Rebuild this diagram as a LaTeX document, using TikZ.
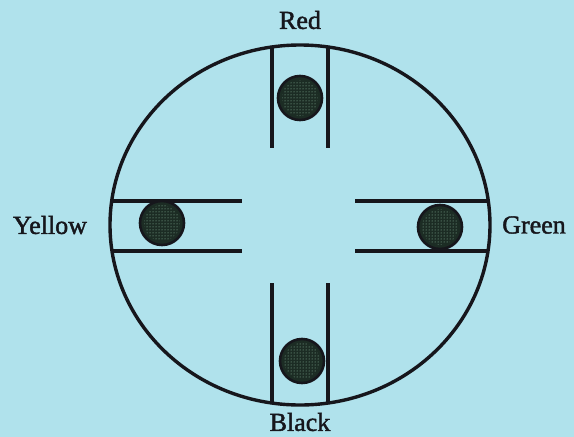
\documentclass[tikz,border=0pt]{standalone}
\usepackage{fontspec}
\setmainfont{Liberation Serif}[FakeBold=1.6]
\usetikzlibrary{patterns}
\definecolor{bg}{RGB}{176,226,236}
\definecolor{ink}{RGB}{22,22,28}
\definecolor{bead}{RGB}{28,44,36}
\definecolor{dotc}{RGB}{150,200,170}
\begin{document}
\begin{tikzpicture}[x=1pt,y=-1pt,
  wall/.style={draw=ink,line width=3.4pt},
  beadstyle/.style={circle,minimum size=44pt,inner sep=0pt,draw=ink,line width=2.6pt,fill=bead},
  lab/.style={font=\fontsize{26}{26}\selectfont,text=ink}]
\fill[bg] (0,0) rectangle (574,437);
\useasboundingbox (0,0) rectangle (574,437);
\begin{scope}
\clip (300,225) ellipse [x radius=190, y radius=180];
\draw[wall] (272,30) -- (272,148) (328,30) -- (328,148);
\draw[wall] (272,283) -- (272,420) (328,283) -- (328,420);
\draw[wall] (100,201) -- (242,201) (100,251) -- (242,251);
\draw[wall] (355,201) -- (500,201) (355,251) -- (500,251);
\end{scope}
\draw[wall] (300,225) ellipse [x radius=190, y radius=180];
\foreach \n/\p in {r/{(300,98)},y/{(162,223)},g/{(440,227)},b/{(302,361)}}{
  \node[beadstyle] (bead\n) at \p {};
  \fill[pattern=dots,pattern color=dotc] (bead\n) circle (18pt);
}
\node[lab] (red) at (300,20) {Red};
\node[lab] (yellow) at (50,225) {Yellow};
\node[lab] (green) at (534,225) {Green};
\node[lab] (black) at (300,422) {Black};
\end{tikzpicture}
\end{document}
